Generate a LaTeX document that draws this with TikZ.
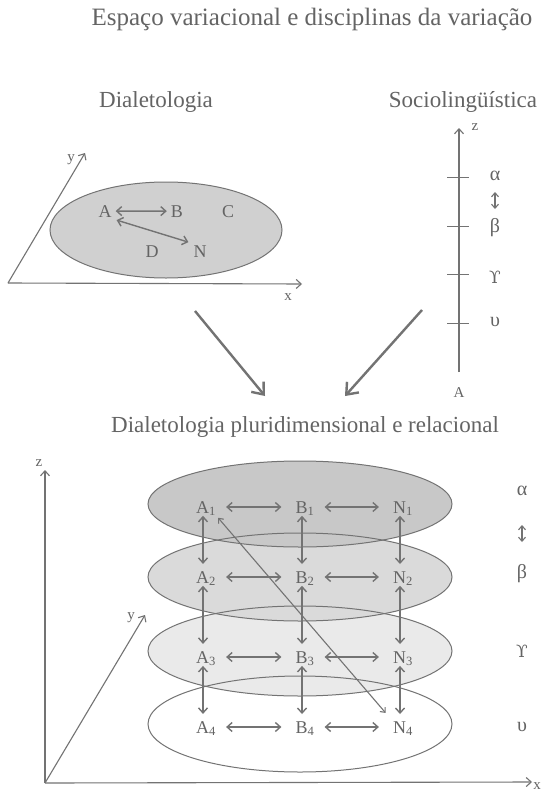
\documentclass[tikz,border=0pt]{standalone}
\usepackage{fontspec}
\setmainfont{Liberation Serif}
\newfontfamily\dvserif{DejaVu Serif}
\usetikzlibrary{arrows.meta,calc}
\definecolor{ink}{RGB}{100,100,100}
\definecolor{ln}{RGB}{115,115,115}
\definecolor{fTop}{RGB}{208,208,208}
\definecolor{fOne}{RGB}{200,200,200}
\definecolor{fTwo}{RGB}{218,218,218}
\definecolor{fThree}{RGB}{234,234,234}
\begin{document}
\begin{tikzpicture}[x=1pt,y=-1pt,
  every node/.style={text=ink, inner sep=2pt},
  ttl/.style={font=\fontsize{23}{27}\selectfont, anchor=base},
  lbl/.style={font=\fontsize{18}{20}\selectfont, anchor=base},
  gk/.style={font=\fontsize{20}{22}\selectfont},
  axl/.style={font=\fontsize{15}{17}\selectfont},
  axis/.style={draw=ln, line width=1.1pt, -{Straight Barb[length=5pt,width=9pt]}},
  dbl/.style={draw=ln, line width=1.4pt, {Straight Barb[length=5pt,width=9pt]}-{Straight Barb[length=5pt,width=9pt]}},
  thin dbl/.style={draw=ln, line width=1.1pt, {Straight Barb[length=4pt,width=7pt]}-{Straight Barb[length=4pt,width=7pt]}},
  big/.style={draw=ln, line width=2.4pt, -{Straight Barb[length=10pt,width=16pt]}},
  ell/.style={draw=ln, line width=1pt},
  tick/.style={draw=ln, line width=1pt}]
\fill[white] (0,0) rectangle (544,792);
\useasboundingbox (0,0) rectangle (544,792);

% titles
\node[ttl, font=\fontsize{25}{30}\selectfont] (title) at (312,26) {Espaço variacional e disciplinas da variação};
\node[ttl] (dial) at (156,107) {Dialetologia};
\node[ttl] (socio) at (463,107) {Sociolingüística};
\node[ttl] (sub) at (305,432) {Dialetologia pluridimensional e relacional};

% ---- top left: Dialetologia
\fill[fTop] (166,230) ellipse [x radius=116pt, y radius=48pt];
\draw[ell] (166,230) ellipse [x radius=116pt, y radius=48pt];
\coordinate (O1) at (8,283);
\coordinate (Y1) at (85,153);
\coordinate (X1) at (302,284);
\draw[axis] (O1) -- (Y1);
\draw[axis] (O1) -- (X1);
\node[axl] (y1l) at (71,160) {y};
\node[axl] (x1l) at (288,297) {x};
\node[lbl] (A) at (105,217) {A};
\node[lbl] (B) at (177,217) {B};
\node[lbl] (C) at (228,217) {C};
\node[lbl] (D) at (152,257) {D};
\node[lbl] (N) at (200,257) {N};
\draw[dbl, shorten <=2pt, shorten >=2pt] (A) -- (B);
\draw[dbl, shorten <=3pt, shorten >=3pt] (A.south east) -- (N.north west);

% ---- top right: Sociolinguistica
\coordinate (Zb) at (459,372);
\coordinate (Zt) at (459,128);
\draw[axis] (Zb) -- (Zt);
\node[axl] (z1l) at (475,127) {z};
\node[axl] (Al) at (459,393) {A};
\foreach \yy in {177,226,274,323} \draw[tick] (447,\yy) -- (469,\yy);
\node[gk] (ga1) at (495,176) {α};
\coordinate (s1a) at (495,192);
\coordinate (s1b) at (495,209);
\draw[thin dbl] (s1a) -- (s1b);
\node[gk] (gb1) at (495,228) {β};
\node[gk, font=\dvserif\fontsize{17}{20}\selectfont] (gc1) at (495,277) {ϒ};
\node[gk] (gd1) at (495,322) {υ};

% ---- big arrows
\coordinate (L1) at (195,311);
\coordinate (L2) at (265,396);
\coordinate (R1) at (422,310);
\coordinate (R2) at (345,396);
\draw[big] (L1) -- (L2);
\draw[big] (R1) -- (R2);

% ---- bottom diagram
\fill[white] (300,724) ellipse [x radius=152pt, y radius=48pt];
\fill[fThree] (300,651) ellipse [x radius=152pt, y radius=45pt];
\fill[fTwo] (300,577) ellipse [x radius=152pt, y radius=44pt];
\fill[fOne] (300,504) ellipse [x radius=152pt, y radius=43pt];
\draw[ell] (300,724) ellipse [x radius=152pt, y radius=48pt];
\draw[ell] (300,651) ellipse [x radius=152pt, y radius=45pt];
\draw[ell] (300,577) ellipse [x radius=152pt, y radius=44pt];
\draw[ell] (300,504) ellipse [x radius=152pt, y radius=43pt];

\coordinate (O2) at (45,783);
\coordinate (Z2) at (45,470);
\coordinate (X2) at (532,782);
\coordinate (Y2) at (145,615);
\draw[axis] (O2) -- (Z2);
\draw[axis] (O2) -- (X2);
\draw[axis] (O2) -- (Y2);
\node[axl] (z2l) at (39,463) {z};
\node[axl] (y2l) at (131,618) {y};
\node[axl] (x2l) at (537,786) {x};

\foreach \r/\yy in {1/513,2/583,3/663,4/733}{
  \node[lbl] (A\r) at (206,\yy) {A\textsubscript{\r}};
  \node[lbl] (B\r) at (305,\yy) {B\textsubscript{\r}};
  \node[lbl] (N\r) at (403,\yy) {N\textsubscript{\r}};
}
\foreach \r in {1,2,3,4}{
  \draw[dbl, shorten <=8pt, shorten >=12pt] ([yshift=6pt]A\r.base east) -- ([yshift=6pt]B\r.base west);
  \draw[dbl, shorten <=8pt, shorten >=12pt] ([yshift=6pt]B\r.base east) -- ([yshift=6pt]N\r.base west);
}
\foreach \r/\s in {1/2,2/3,3/4}{
  \draw[dbl, shorten <=-2pt, shorten >=5pt] ([xshift=-3pt]A\r.south) -- ([xshift=-3pt]A\s.north);
  \draw[dbl, shorten <=-2pt, shorten >=5pt] ([xshift=-3pt]B\r.south) -- ([xshift=-3pt]B\s.north);
  \draw[dbl, shorten <=-2pt, shorten >=5pt] ([xshift=-3pt]N\r.south) -- ([xshift=-3pt]N\s.north);
}
\draw[thin dbl, shorten <=0pt, shorten >=8pt] (A1.south east) -- (N4.north west);

\node[gk] (ga2) at (522,491) {α};
\coordinate (s2a) at (522,525);
\coordinate (s2b) at (522,542);
\draw[thin dbl] (s2a) -- (s2b);
\node[gk] (gb2) at (522,574) {β};
\node[gk, font=\dvserif\fontsize{17}{20}\selectfont] (gc2) at (522,651) {ϒ};
\node[gk] (gd2) at (522,727) {υ};
\end{tikzpicture}
\end{document}
